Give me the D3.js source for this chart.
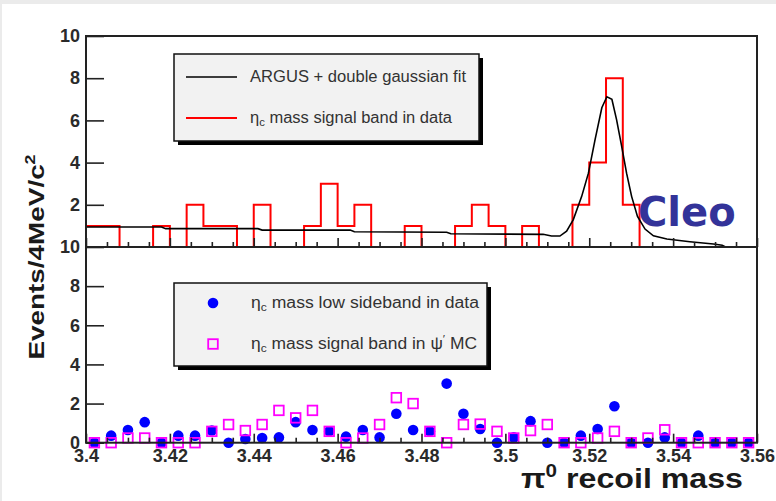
<!DOCTYPE html>
<html><head><meta charset="utf-8">
<script src="https://cdn.jsdelivr.net/npm/d3@7"></script>
<style>
html,body{margin:0;padding:0;background:#ebebeb;}
svg{display:block;}
</style></head>
<body>
<svg id="c" width="776" height="501"></svg>
<script>
// ---- data ----
const binCenters = [3.402,3.406,3.410,3.414,3.418,3.422,3.426,3.430,3.434,3.438,
  3.442,3.446,3.450,3.454,3.458,3.462,3.466,3.470,3.474,3.478,
  3.482,3.486,3.490,3.494,3.498,3.502,3.506,3.510,3.514,3.518,
  3.522,3.526,3.530,3.534,3.538,3.542,3.546,3.550,3.554,3.558];
const binWidth = 0.004;
const signalData = [1,1,0,0,1,0,2,1,1,0, 2,0,0,1,3,1,2,0,0,1, 0,0,1,2,1,0,1,0,0,2, 4,8,2,0,0,0,0,0,0,0];
const fitX = [3.400,3.418,3.419,3.441,3.442,3.463,3.464,3.486,3.487,3.509,3.511,3.513,3.5146,3.5162,3.5182,3.5198,3.5214,3.5230,3.5242,3.5254,3.5265,3.5277,3.5289,3.5301,3.5315,3.5333,3.5353,3.5385,3.5440,3.5496,3.5517,3.5525];
const fitY = [0.95,0.95,0.87,0.87,0.80,0.80,0.72,0.70,0.63,0.60,0.52,0.52,0.75,1.3,2.4,3.5,5.1,6.6,7.12,7.0,6.05,4.8,3.5,2.4,1.45,0.85,0.53,0.38,0.25,0.14,0.08,0.0];
const sidebandData = [0,0.36,0.65,1.05,0,0.36,0.36,0.62,0,0.19, 0.24,0.27,1.05,0.65,0.58,0.31,0.65,0.27,1.48,0.65, 0.58,3.02,1.48,0.70,0,0.27,1.10,0,0,0.36, 0.70,1.86,0,0,0.27,0,0.36,0,0,0];
const mcData = [0,0,0.24,0.24,0,0,0,0.58,0.93,0.62, 0.93,1.65,1.27,1.65,0.58,0,0.24,0.93,2.3,2.0, 0.58,0,0.93,0.95,0.58,0.24,0.62,0.93,0,0, 0.24,0.58,0,0.24,0.66,0,0,0,0,0];
const xTickValues = [3.40,3.42,3.44,3.46,3.48,3.50,3.52,3.54,3.56];
const xTickLabels = ["3.4","3.42","3.44","3.46","3.48","3.5","3.52","3.54","3.56"];
const yTopTicks = [2,4,6,8,10];
const yBotTicks = [0,2,4,6,8,10];

// ---- layout ----
const svg = d3.select("#c");
svg.append("rect").attr("x",2).attr("y",4).attr("width",774).attr("height",497).attr("fill","#fff");

const x = d3.scaleLinear().domain([3.4,3.56]).range([86,757]);
const yTop = d3.scaleLinear().domain([0,10]).range([247,36]);
const yBot = d3.scaleLinear().domain([0,10]).range([442.7,247]);
const axisColor = "#222";
const labelColor = "#2a2a2a";
const tickFont = "Liberation Sans, Arial, sans-serif";

// ---- top panel: histogram ----
const histPts = binCenters.map((c,i)=>[c-binWidth/2, signalData[i]]);
histPts.push([3.56, signalData[signalData.length-1]]);
const histLine = d3.line().x(d=>x(d[0])).y(d=>yTop(d[1])).curve(d3.curveStepAfter);
svg.append("path").datum(histPts).attr("d",histLine)
  .attr("fill","none").attr("stroke","#ff0000").attr("stroke-width",2);

// fit curve
const fitLine = d3.line().x(d=>x(d[0])).y(d=>yTop(d[1]));
svg.append("path").datum(fitX.map((v,i)=>[v,fitY[i]])).attr("d",fitLine)
  .attr("fill","none").attr("stroke","#000").attr("stroke-width",1.6);

// ---- bottom panel markers ----
svg.append("g").selectAll("circle").data(binCenters).join("circle")
  .attr("cx",d=>x(d)).attr("cy",(d,i)=>yBot(sidebandData[i])).attr("r",5.3)
  .attr("fill","#0000ff");
svg.append("g").selectAll("rect").data(binCenters).join("rect")
  .attr("x",d=>x(d)-4.8).attr("y",(d,i)=>yBot(mcData[i])-4.8)
  .attr("width",9.6).attr("height",9.6)
  .attr("fill","none").attr("stroke","#ff00ff").attr("stroke-width",1.8);

// ---- axes ----
function styleAxis(g){
  g.select(".domain").remove();
  g.selectAll(".tick line").attr("stroke",axisColor).attr("stroke-width",1.6);
  g.selectAll(".tick text").attr("fill",labelColor)
    .style("font-family",tickFont).style("font-weight","bold").style("font-size","18px");
}
svg.append("g").attr("transform","translate(86,0)")
  .call(d3.axisLeft(yTop).tickValues(yTopTicks).tickSizeInner(-18).tickSizeOuter(0).tickPadding(6).tickFormat(d3.format("d")))
  .call(styleAxis);
svg.append("g").attr("transform","translate(86,0)")
  .call(d3.axisLeft(yBot).tickValues(yBotTicks).tickSizeInner(-18).tickSizeOuter(0).tickPadding(6).tickFormat(d3.format("d")))
  .call(styleAxis);

const minorTicks = d3.range(3.405,3.556,0.005).filter(v=>Math.abs(Math.round(v/0.02)*0.02-v)>1e-6);
[247,442.7].forEach((yy,k)=>{
  svg.append("g").attr("transform",`translate(0,${yy})`)
    .call(d3.axisBottom(x).tickValues(minorTicks).tickSizeInner(-5).tickSizeOuter(0).tickFormat(""))
    .call(styleAxis);
  svg.append("g").attr("transform",`translate(0,${yy})`)
    .call(d3.axisBottom(x).tickValues(xTickValues).tickSizeInner(-9).tickSizeOuter(0).tickPadding(7)
      .tickFormat((d,i)=> k===1 ? xTickLabels[i] : ""))
    .call(styleAxis);
});

// frame
svg.append("rect").attr("x",86).attr("y",36).attr("width",757-86).attr("height",442.7-36)
  .attr("fill","none").attr("stroke",axisColor).attr("stroke-width",2);
svg.append("line").attr("x1",86).attr("x2",757).attr("y1",247).attr("y2",247)
  .attr("stroke",axisColor).attr("stroke-width",2);

// ---- legends ----
function legendBox(x0,y0,w,h){
  svg.append("rect").attr("x",x0+4).attr("y",y0+4).attr("width",w).attr("height",h).attr("fill","#000");
  svg.append("rect").attr("x",x0).attr("y",y0).attr("width",w).attr("height",h)
    .attr("fill","#f2f2f2").attr("stroke","#111").attr("stroke-width",1.5);
}
const legFont = "Liberation Sans, Arial, sans-serif";
function legText(xx,yy,len,parts){
  const t = svg.append("text").attr("x",xx).attr("y",yy).attr("fill","#333")
    .style("font-family",legFont).style("font-size","16px")
    .attr("textLength",len).attr("lengthAdjust","spacingAndGlyphs");
  parts.forEach(p=>{
    const ts = t.append("tspan").text(p.t);
    if(p.sub){ ts.attr("font-size","11px").attr("dy",3); }
    if(p.up){ ts.attr("font-size","11px").attr("dy",-6); }
    if(p.back){ ts.attr("dy",p.back); }
  });
  return t;
}
legendBox(174,54,305,87);
svg.append("line").attr("x1",186).attr("x2",237).attr("y1",77).attr("y2",77).attr("stroke","#000").attr("stroke-width",1.6);
svg.append("line").attr("x1",186).attr("x2",237).attr("y1",118).attr("y2",118).attr("stroke","#ff0000").attr("stroke-width",2);
legText(250,82,216,[{t:"ARGUS + double gaussian fit"}]);
legText(250,123,202,[{t:"η"},{t:"c",sub:true},{t:" mass signal band in data",back:-3}]);

legendBox(174,283,313,83);
svg.append("circle").attr("cx",213).attr("cy",303).attr("r",5.3).attr("fill","#0000ff");
svg.append("rect").attr("x",208.2).attr("y",339.2).attr("width",9.6).attr("height",9.6)
  .attr("fill","none").attr("stroke","#ff00ff").attr("stroke-width",1.8);
legText(251,308,228,[{t:"η"},{t:"c",sub:true},{t:" mass low sideband in data",back:-3}]);
legText(251,349,226,[{t:"η"},{t:"c",sub:true},{t:" mass signal band in ψ",back:-3},{t:"′",up:true},{t:" MC",back:6}]);

// ---- Cleo ----
svg.append("text").attr("x",638).attr("y",226).text("Cleo")
  .attr("fill","#333399").style("font-family","DejaVu Sans, Verdana, sans-serif")
  .style("font-weight","bold").style("font-size","40px");

// ---- axis titles ----
const xt = svg.append("text").attr("x",521).attr("y",488).attr("fill","#1a1a1a")
  .style("font-family",tickFont).style("font-weight","bold").style("font-size","28px")
  .attr("textLength",222).attr("lengthAdjust","spacingAndGlyphs");
xt.append("tspan").text("π");
xt.append("tspan").text("0").attr("font-size","18px").attr("dy",-11);
xt.append("tspan").text(" recoil mass").attr("dy",11);

const yt = svg.append("text").attr("transform","translate(44,257) rotate(-90)")
  .attr("text-anchor","middle").attr("fill","#1a1a1a")
  .style("font-family",tickFont).style("font-weight","bold").style("font-size","22px")
  .attr("textLength",205).attr("lengthAdjust","spacingAndGlyphs");
yt.append("tspan").text("Events/4MeV/c");
yt.append("tspan").text("2").attr("font-size","14px").attr("dy",-9);
</script>
</body></html>
